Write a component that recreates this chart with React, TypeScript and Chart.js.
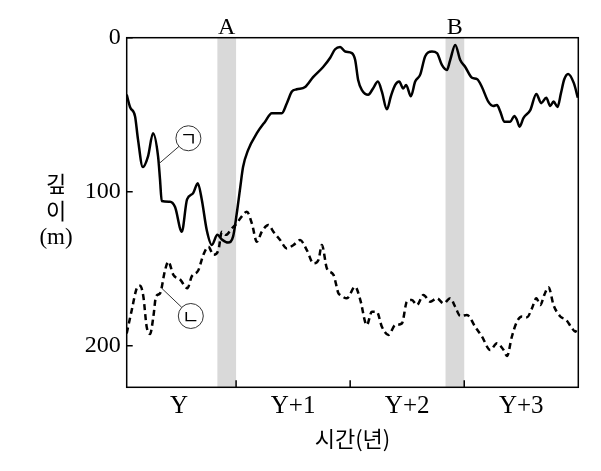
import React, { useEffect, useRef } from "react";
import { Chart, registerables } from "chart.js";

Chart.register(...registerables);

// time in years (Y starts at 0), depth in m
const solidT = [0.041, 0.07, 0.114, 0.14, 0.182, 0.228, 0.272, 0.316, 0.333, 0.348, 0.421, 0.465, 0.524, 0.57, 0.623, 0.664, 0.699, 0.743, 0.787, 0.836, 0.875, 0.93, 0.974, 1.006, 1.035, 1.061, 1.105, 1.182, 1.254, 1.313, 1.401, 1.445, 1.489, 1.532, 1.605, 1.675, 1.763, 1.825, 1.868, 1.912, 1.956, 2.015, 2.044, 2.07, 2.103, 2.158, 2.202, 2.243, 2.278, 2.322, 2.357, 2.395, 2.43, 2.465, 2.491, 2.532, 2.57, 2.614, 2.658, 2.717, 2.761, 2.804, 2.848, 2.877, 2.921, 2.965, 3.009, 3.068, 3.114, 3.155, 3.211, 3.254, 3.287, 3.316, 3.351, 3.404, 3.439, 3.462, 3.485, 3.52, 3.579, 3.632, 3.675, 3.719, 3.754, 3.783, 3.818, 3.848, 3.877, 3.911, 3.961, 3.996];
const solidDepth = [37, 45, 51, 66, 84, 77, 62, 77, 92, 106, 106.5, 110, 126, 105, 101, 94.5, 105, 125, 134.6, 128, 131, 133, 129, 114, 98, 84, 73, 62, 54.5, 49, 49, 42.5, 35, 33.5, 32, 25.6, 19, 13, 7.5, 6, 9, 10, 14.5, 27.5, 34, 37, 32.8, 28.5, 35, 46.5, 38, 30.7, 28.5, 33, 30.7, 38, 28.5, 24, 12, 9, 10, 17.7, 21, 14.5, 4.7, 14.5, 19, 26, 27, 32, 41.5, 44.3, 43.7, 48, 54.5, 54.5, 50.8, 53.4, 57.8, 52, 47, 36.5, 42.5, 39, 44.3, 41.5, 45, 36, 27, 23.5, 29.5, 39];

const dashedT = [0.041, 0.085, 0.129, 0.158, 0.187, 0.216, 0.246, 0.275, 0.298, 0.333, 0.377, 0.406, 0.45, 0.509, 0.573, 0.611, 0.669, 0.713, 0.757, 0.801, 0.845, 0.875, 0.912, 0.962, 1.006, 1.05, 1.094, 1.138, 1.182, 1.225, 1.283, 1.327, 1.386, 1.445, 1.503, 1.561, 1.62, 1.678, 1.722, 1.752, 1.796, 1.854, 1.897, 1.912, 1.971, 2.044, 2.088, 2.146, 2.19, 2.234, 2.278, 2.336, 2.395, 2.454, 2.497, 2.541, 2.585, 2.643, 2.702, 2.761, 2.819, 2.877, 2.921, 2.965, 3.024, 3.096, 3.155, 3.228, 3.287, 3.345, 3.375, 3.418, 3.462, 3.506, 3.55, 3.594, 3.632, 3.667, 3.702, 3.739, 3.783, 3.842, 3.895, 3.945, 3.974, 3.996];
const dashedDepth = [192, 177, 162.7, 161, 168, 187.7, 192.4, 181, 168, 166, 151, 145.4, 154, 157, 162.7, 155, 151, 141, 135.7, 141, 137.9, 126, 128, 123.8, 120.5, 116, 113, 120.5, 132.5, 126, 121.6, 126, 131.4, 136.8, 134.6, 131.4, 137.9, 146.5, 144.3, 134.6, 149.8, 154, 166, 167, 169.2, 161.7, 170, 186.6, 177.9, 178, 187.7, 193, 186.6, 185.5, 171.4, 170.3, 173.6, 167, 171.4, 169.2, 172.5, 169.2, 174.7, 180.7, 180, 187.7, 194, 202.8, 198.4, 202.8, 206.7, 194, 184.4, 181, 181.5, 175.7, 169.2, 173.6, 167, 162, 173.6, 181, 183.3, 188.7, 190.9, 187.7];

const yearBoundaries = [1, 2, 3];
const yearLabelPos = [0.5, 1.5, 2.5, 3.5];
const yearLabels = ["Y", "Y+1", "Y+2", "Y+3"];
const depthTicks = [0, 100, 200];

const bandStarts = [0.836, 2.836];
const bandEnds = [1.0, 3.0];
const bandLabels = ["A", "B"];

const annLabels = ["ㄱ", "ㄴ"];
const annT = [0.582, 0.603];
const annDepth = [65.3, 180.7];
const leaderT = [0.327, 0.348];
const leaderDepth = [81.6, 162.7];

const xTitle = "시간(년)";
const yTitleLines = ["깊", "이", "(m)"];

const SERIF = '"Liberation Serif", "Noto Sans CJK KR", serif';
const KR = '"Noto Sans CJK KR", "Liberation Serif", sans-serif';

const overlay = {
  id: "overlay",
  beforeDatasetsDraw(chart: any) {
    const { ctx, chartArea: a, scales } = chart;
    const x = scales.x;
    ctx.save();
    ctx.fillStyle = "#d9d9d9";
    bandStarts.forEach((s, i) => {
      const x0 = x.getPixelForValue(s);
      const x1 = x.getPixelForValue(bandEnds[i]);
      ctx.fillRect(x0, a.top, x1 - x0, a.bottom - a.top);
    });
    ctx.restore();
  },
  afterDatasetsDraw(chart: any) {
    const { ctx, chartArea: a, scales } = chart;
    const x = scales.x;
    const y = scales.y;
    ctx.save();
    // frame
    ctx.strokeStyle = "#000";
    ctx.lineWidth = 1.5;
    ctx.strokeRect(a.left, a.top, a.right - a.left, a.bottom - a.top);
    // ticks
    ctx.beginPath();
    depthTicks.forEach((v) => {
      const py = y.getPixelForValue(v);
      ctx.moveTo(a.left, py);
      ctx.lineTo(a.left + 6, py);
    });
    yearBoundaries.forEach((v) => {
      const px = x.getPixelForValue(v);
      ctx.moveTo(px, a.bottom);
      ctx.lineTo(px, a.bottom - 7);
    });
    ctx.stroke();

    // band labels
    ctx.fillStyle = "#000";
    ctx.font = `24px ${SERIF}`;
    ctx.textAlign = "center";
    ctx.textBaseline = "alphabetic";
    bandLabels.forEach((lab, i) => {
      const cx = (x.getPixelForValue(bandStarts[i]) + x.getPixelForValue(bandEnds[i])) / 2;
      ctx.fillText(lab, cx, a.top - 4);
    });

    // x title
    ctx.font = `22px ${KR}`;
    ctx.textBaseline = "middle";
    ctx.fillText(xTitle, (a.left + a.right) / 2, a.bottom + 51);

    // y title (stacked)
    yTitleLines.forEach((t, i) => {
      ctx.font = i < 2 ? `22px ${KR}` : `23px ${SERIF}`;
      ctx.fillText(t, 56, y.getPixelForValue(95) + i * 27);
    });

    // annotations
    annLabels.forEach((lab, i) => {
      const cx = x.getPixelForValue(annT[i]);
      const cy = y.getPixelForValue(annDepth[i]);
      const tx = x.getPixelForValue(leaderT[i]);
      const ty = y.getPixelForValue(leaderDepth[i]);
      const r = 12.5;
      const dx = tx - cx, dy = ty - cy;
      const d = Math.hypot(dx, dy);
      ctx.strokeStyle = "#333";
      ctx.lineWidth = 1;
      ctx.beginPath();
      ctx.arc(cx, cy, r, 0, Math.PI * 2);
      ctx.stroke();
      ctx.beginPath();
      ctx.moveTo(cx + (dx / d) * r, cy + (dy / d) * r);
      ctx.lineTo(tx, ty);
      ctx.stroke();
      ctx.fillStyle = "#000";
      ctx.font = `19px ${KR}`;
      ctx.textAlign = "center";
      ctx.textBaseline = "middle";
      ctx.fillText(lab, cx, cy + 1);
    });
    ctx.restore();
  },
};

export default function App() {
  const ref = useRef<HTMLCanvasElement>(null);
  useEffect(() => {
    if (!ref.current) return;
    const chart = new Chart(ref.current, {
      type: "line",
      data: {
        datasets: [
          {
            label: "ㄱ",
            data: solidT.map((t, i) => ({ x: t, y: solidDepth[i] })),
            borderColor: "#000",
            borderWidth: 2.5,
            pointRadius: 0,
            cubicInterpolationMode: "monotone",
            fill: false,
          },
          {
            label: "ㄴ",
            data: dashedT.map((t, i) => ({ x: t, y: dashedDepth[i] })),
            borderColor: "#000",
            borderWidth: 2.5,
            borderDash: [6, 4],
            pointRadius: 0,
            cubicInterpolationMode: "monotone",
            fill: false,
          },
        ],
      },
      options: {
        responsive: false,
        animation: false,
        layout: { padding: { left: 0, top: 37.7, right: 22.7, bottom: 0 } },
        plugins: { legend: { display: false }, tooltip: { enabled: false } },
        scales: {
          x: {
            type: "linear",
            min: 0.041,
            max: 4.0,
            grid: { display: false, drawTicks: false },
            border: { display: false },
            afterBuildTicks: (s: any) => {
              s.ticks = yearLabelPos.map((v) => ({ value: v }));
            },
            afterFit: (s: any) => {
              s.height = 83.7;
            },
            ticks: {
              autoSkip: false,
              maxRotation: 0,
              padding: 4,
              color: "#000",
              font: { family: SERIF, size: 25 },
              callback: (_v: any, i: number) => yearLabels[i],
            },
          },
          y: {
            type: "linear",
            reverse: true,
            min: 0,
            max: 227,
            grid: { display: false, drawTicks: false },
            border: { display: false },
            afterBuildTicks: (s: any) => {
              s.ticks = depthTicks.map((v) => ({ value: v }));
            },
            afterFit: (s: any) => {
              s.width = 126.7;
            },
            ticks: {
              padding: 6,
              color: "#000",
              font: { family: SERIF, size: 24 },
              callback: (v: any) => String(v),
            },
          },
        },
      },
      plugins: [overlay],
    });
    return () => chart.destroy();
  }, []);
  return (
    <div style={{ position: "absolute", left: 0, top: 0, width: 601, height: 471, background: "#fff" }}>
      <canvas ref={ref} width={601} height={471} />
    </div>
  );
}
